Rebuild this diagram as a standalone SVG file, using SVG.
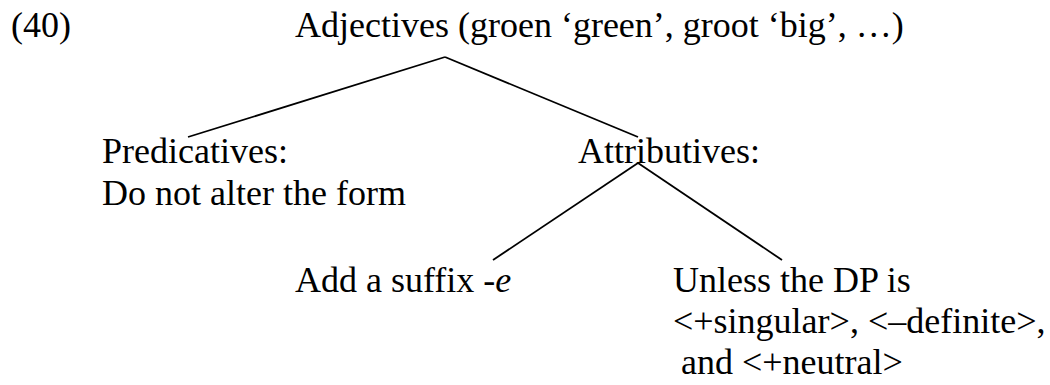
<svg xmlns="http://www.w3.org/2000/svg" width="1050" height="385" viewBox="0 0 1050 385">
<style>
text { font-family: "Liberation Serif", "Times New Roman", serif; font-size: 36px; fill: #000; }
.edge { stroke: #000; stroke-width: 1.8; fill: none; }
</style>
<rect width="1050" height="385" fill="#fff"/>
<text id="ex-num" x="11" y="37">(40)</text>
<g id="connectors">
<line class="edge" x1="445" y1="57" x2="188" y2="137"/>
<line class="edge" x1="445" y1="57" x2="638" y2="137"/>
<line class="edge" x1="638" y1="163" x2="493" y2="260"/>
<line class="edge" x1="638" y1="163" x2="782" y2="260"/>
</g>
<g id="node-adjectives"><text x="295" y="37">Adjectives (groen ‘green’, groot ‘big’, …)</text></g>
<g id="node-predicatives"><text x="102" y="163">Predicatives:</text><text x="102" y="205">Do not alter the form</text></g>
<g id="node-attributives"><text x="578" y="163">Attributives:</text></g>
<g id="node-suffix"><text x="295" y="292">Add a suffix -<tspan font-style="italic">e</tspan></text></g>
<g id="node-unless"><text x="673" y="292">Unless the DP is</text><text x="673" y="333">&lt;+singular&gt;, &lt;–definite&gt;,</text><text x="681" y="374">and &lt;+neutral&gt;</text></g>
</svg>
